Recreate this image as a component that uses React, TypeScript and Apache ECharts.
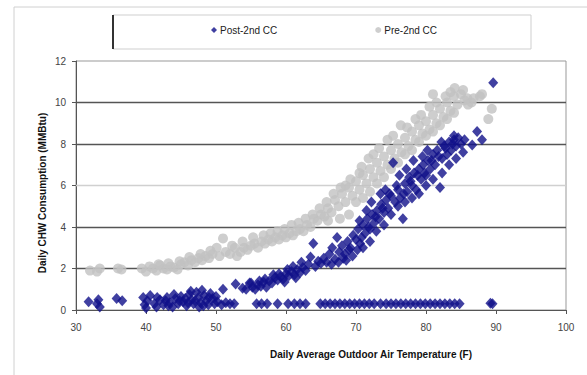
import React, { useEffect, useRef } from "react";
import * as echarts from "echarts";

const xTicks = [30, 40, 50, 60, 70, 80, 90, 100];
const yTicks = [0, 2, 4, 6, 8, 10, 12];
const seriesNames = ["Post-2nd CC", "Pre-2nd CC"];

// [temperature F, MMBtu]
const postLow: number[][] = [
  [31.8, 0.4], [33.2, 0.5], [33.4, 0.15], [33.0, 0.3], [35.8, 0.55], [36.6, 0.45],
  [39.6, 0.6], [39.8, 0.25], [40.0, 0.1], [40.2, 0.45], [40.6, 0.7], [41.2, 0.3],
  [42.0, 0.5], [42.5, 0.25], [43.0, 0.6], [43.4, 0.35], [43.8, 0.15], [44.2, 0.55],
  [44.6, 0.3], [45.0, 0.65], [45.3, 0.4], [45.8, 0.2], [46.2, 0.75], [46.5, 0.5],
  [46.8, 0.3], [47.2, 0.85], [47.5, 0.6], [47.8, 0.35], [48.0, 0.95], [48.3, 0.7],
  [48.6, 0.45], [48.9, 0.25], [49.2, 0.8], [49.5, 0.55], [49.8, 0.3], [50.2, 0.4],
  [50.8, 0.25], [51.0, 1.0], [51.4, 0.35], [52.0, 0.3], [52.8, 1.25], [52.6, 0.3],
  [41.6, 0.6], [42.8, 0.45], [44.0, 0.75], [45.6, 0.55], [46.0, 0.35], [47.0, 0.45],
  [48.2, 0.2], [49.0, 0.6], [50.0, 0.65], [44.8, 0.45], [43.2, 0.2], [41.5, 0.15],
  [47.6, 0.15], [46.4, 0.9],
];

const postUpper: number[][] = [
  [53.8, 1.05], [54.3, 1.0], [54.8, 1.3], [55.2, 1.1], [55.6, 1.0], [56.0, 1.2],
  [56.4, 1.15], [56.8, 1.35], [57.2, 1.1], [57.6, 1.4], [58.0, 1.3], [58.4, 1.55],
  [58.8, 1.45], [59.2, 1.6], [59.6, 1.5], [60.0, 1.75], [60.4, 1.65], [60.8, 1.85],
  [61.2, 1.7], [61.6, 1.95], [62.0, 1.8], [62.4, 2.05], [62.8, 1.9], [63.2, 2.2],
  [63.5, 2.55], [63.9, 3.2], [64.2, 2.1], [64.6, 2.35], [65.0, 2.25], [65.4, 2.5],
  [65.8, 2.3], [66.2, 2.7], [66.6, 3.0], [67.0, 2.45], [67.3, 3.5], [67.6, 2.8],
  [68.0, 3.1], [68.4, 2.7], [68.8, 3.3], [69.2, 3.0], [69.6, 3.6], [70.0, 3.4],
  [70.3, 3.9], [70.6, 3.2], [71.0, 4.1], [71.3, 3.7], [71.6, 4.4], [72.0, 3.9],
  [72.3, 4.6], [72.6, 4.2], [73.0, 4.8], [73.3, 4.4], [73.6, 5.1], [74.0, 4.7],
  [74.3, 5.3], [74.6, 4.9], [75.0, 5.5], [75.3, 7.1], [75.6, 5.2], [76.0, 5.8],
  [76.3, 5.4], [76.7, 4.4], [77.0, 6.1], [77.3, 5.7], [77.6, 6.4], [78.0, 6.0],
  [78.3, 6.6], [78.6, 5.8], [79.0, 6.8], [79.3, 6.3], [79.6, 7.0], [80.0, 6.5],
  [80.3, 7.2], [80.6, 6.8], [81.0, 7.5], [81.3, 7.0], [81.6, 7.7], [82.0, 5.9],
  [82.3, 7.3], [82.6, 7.9], [83.0, 7.5], [83.3, 8.1], [83.6, 7.7], [84.0, 8.2],
  [84.3, 7.9], [84.6, 8.3], [85.0, 8.0], [85.5, 8.2], [86.6, 7.95], [87.3, 8.6],
  [88.0, 8.2], [89.6, 10.95],
  [68.2, 2.5], [69.0, 2.9], [70.8, 3.5], [71.8, 4.0], [72.8, 4.5], [73.8, 4.9],
  [74.8, 5.6], [75.8, 6.0], [76.8, 5.6], [77.8, 6.2], [78.8, 6.5], [79.8, 6.6],
  [80.8, 7.2], [81.8, 7.4], [82.8, 7.8], [83.8, 8.0], [77.2, 6.8], [79.5, 7.4],
  [73.5, 5.6], [71.5, 4.8],
  [55.0, 1.3], [56.2, 1.4], [57.0, 1.5], [58.2, 1.7], [59.0, 1.75], [60.2, 1.95],
  [61.0, 2.1], [62.2, 2.3], [61.4, 1.55], [59.8, 1.35],
  [66.5, 2.2], [67.5, 2.3], [68.6, 2.4], [69.5, 2.6], [70.2, 2.9], [71.0, 3.0],
  [72.0, 3.3], [72.9, 3.8], [74.0, 4.1], [75.0, 4.6], [76.0, 5.0], [77.0, 5.2],
  [78.0, 5.4], [79.0, 5.6], [80.0, 6.0], [81.0, 6.3], [82.3, 6.6], [83.3, 7.0],
  [84.3, 7.3], [85.3, 7.6], [70.5, 4.3], [72.2, 5.2], [74.2, 5.8], [76.2, 6.5],
  [78.2, 7.2], [80.2, 7.7], [82.2, 8.1], [84.0, 8.4],
];

const postBase: number[][] = [
  [55.8, 0.3], [56.5, 0.3], [57.3, 0.3], [58.8, 0.3], [60.3, 0.3], [61.2, 0.3],
  [62.0, 0.3], [62.8, 0.3], [64.9, 0.3], [65.6, 0.3], [66.3, 0.3], [67.0, 0.3],
  [67.7, 0.3], [68.4, 0.3], [69.1, 0.3], [69.8, 0.3], [70.5, 0.3], [71.2, 0.3],
  [71.9, 0.3], [72.6, 0.3], [73.5, 0.3], [74.3, 0.3], [75.0, 0.3], [75.7, 0.3],
  [76.4, 0.3], [77.1, 0.3], [77.8, 0.3], [78.5, 0.3], [79.2, 0.3], [79.9, 0.3],
  [80.6, 0.3], [81.3, 0.3], [82.0, 0.3], [82.7, 0.3], [83.4, 0.3], [84.1, 0.3],
  [84.8, 0.3], [89.2, 0.32], [89.5, 0.3],
];

const preData: number[][] = [
  [32.0, 1.9], [33.4, 2.0], [33.0, 1.85], [36.0, 2.0], [36.5, 1.95], [39.4, 2.0],
  [40.0, 1.85], [40.5, 2.1], [41.0, 2.0], [41.5, 1.9], [42.0, 2.15], [42.5, 2.0],
  [43.0, 1.95], [43.5, 2.1], [44.0, 2.05], [44.5, 1.95], [45.0, 2.2], [45.5, 2.3],
  [46.0, 2.15], [46.5, 2.4], [47.0, 2.3], [47.5, 2.5], [48.0, 2.4], [48.5, 2.6],
  [49.0, 2.5], [49.5, 2.7], [50.1, 3.0], [50.5, 2.6], [51.0, 3.45], [51.4, 2.8],
  [52.0, 2.7], [52.7, 3.0], [53.0, 2.6], [53.5, 2.8], [54.0, 3.0], [54.5, 2.9],
  [55.0, 3.1], [55.5, 3.2], [56.0, 3.0], [56.5, 3.3], [57.0, 3.2], [57.5, 3.4],
  [58.0, 3.3], [58.5, 3.5], [59.0, 3.4], [59.5, 3.6], [60.0, 3.5], [60.5, 3.7],
  [61.0, 3.6], [61.5, 3.8], [62.0, 3.9], [62.5, 3.8], [63.0, 4.1], [63.5, 4.0],
  [64.0, 4.4], [64.5, 4.3], [65.0, 4.6], [65.5, 4.5], [66.0, 4.9], [66.5, 4.7],
  [67.0, 5.3], [67.5, 5.0], [68.0, 5.6], [68.5, 5.2], [69.0, 5.9], [69.5, 5.5],
  [70.0, 6.2], [70.5, 5.8], [71.0, 6.5], [71.5, 6.1], [72.0, 6.8], [72.5, 6.4],
  [73.0, 7.1], [73.5, 6.7], [74.0, 7.4], [74.5, 7.0], [75.0, 7.7], [75.5, 7.3],
  [76.0, 8.0], [76.4, 8.9], [76.5, 7.6], [77.0, 8.3], [77.5, 7.9], [78.0, 8.6],
  [78.5, 8.2], [79.0, 8.9], [79.5, 8.5], [80.0, 9.1], [80.5, 8.7], [81.0, 9.4],
  [81.0, 10.4], [81.5, 9.0], [82.0, 9.7], [82.5, 9.3], [83.0, 10.0], [83.5, 9.6],
  [84.0, 10.3], [84.1, 10.7], [84.5, 9.9], [85.0, 10.4], [85.5, 10.1], [85.9, 10.2],
  [86.5, 10.0], [87.7, 10.3], [88.0, 10.4], [88.9, 9.2], [89.4, 9.7],
  [66.0, 4.3], [67.7, 4.4], [69.0, 4.6], [70.0, 5.2], [71.0, 5.4], [72.0, 5.7],
  [73.0, 6.1], [74.0, 6.4], [75.0, 6.8], [76.0, 7.1], [77.0, 7.5], [78.0, 7.7],
  [79.0, 8.1], [80.0, 8.4], [81.0, 8.6], [82.0, 8.9], [83.0, 9.2], [84.0, 9.5],
  [72.5, 7.5], [74.5, 8.2], [70.5, 6.6], [68.5, 6.0], [78.5, 9.2], [80.5, 9.8],
  [41.8, 2.2], [43.2, 2.25], [44.8, 2.35], [46.2, 2.55], [47.8, 2.7], [49.2, 2.85],
  [52.3, 3.1], [53.8, 3.3], [55.3, 3.5], [56.8, 3.6], [57.8, 3.7], [58.8, 3.8],
  [59.8, 3.9], [60.8, 4.1], [61.8, 4.2], [62.8, 4.4], [63.8, 4.6], [64.8, 4.9],
  [65.8, 5.2], [66.8, 5.6], [67.8, 5.9], [69.2, 6.3], [70.8, 6.9], [71.8, 7.3],
  [73.3, 7.8], [75.3, 8.4], [77.3, 8.8], [79.3, 9.4], [81.5, 10.0], [82.8, 10.3],
  [83.5, 10.5], [85.3, 10.6], [86.0, 9.9], [86.8, 10.2],
];

const gridValues = [2, 4, 6, 8, 10];
const gridColors = ["#555", "#555", "#d0d0d0", "#555", "#555"];

const FONT = "'Liberation Sans', Arial, sans-serif";

export default function App() {
  const ref = useRef<HTMLDivElement>(null);
  useEffect(() => {
    document.body.style.margin = "0";
    if (!ref.current) return;
    const chart = echarts.init(ref.current, undefined, { renderer: "svg" });
    const postData = [...postLow, ...postUpper, ...postBase];
    chart.setOption({
      animation: false,
      backgroundColor: "#ffffff",
      textStyle: { fontFamily: FONT },
      grid: {
        left: 76, right: 21, top: 61, bottom: 65,
        show: true, borderColor: "#999", borderWidth: 1, backgroundColor: "transparent",
      },
      legend: {
        data: [
          { name: seriesNames[0], icon: "diamond" },
          { name: seriesNames[1], icon: "circle" },
        ],
        left: 206,
        top: 20,
        itemWidth: 6,
        itemHeight: 6,
        itemGap: 98,
        textStyle: { fontSize: 10, color: "#222", fontFamily: FONT, padding: [0, 0, 0, -2] },
      },
      xAxis: {
        type: "value",
        min: 30, max: 100, interval: 10,
        axisLine: { show: true, lineStyle: { color: "#555", width: 1 } },
        axisTick: { show: true, length: 4, lineStyle: { color: "#555" } },
        axisLabel: { fontSize: 10, color: "#444", margin: 12, fontFamily: FONT,
          formatter: (v: number) => (xTicks.includes(v) ? String(v) : "") },
        splitLine: { show: false },
      },
      yAxis: {
        type: "value",
        min: 0, max: 12, interval: 2,
        axisLine: { show: true, lineStyle: { color: "#555", width: 1 } },
        axisTick: { show: true, length: 4, lineStyle: { color: "#555" } },
        axisLabel: { fontSize: 10, color: "#444", margin: 10, fontFamily: FONT,
          formatter: (v: number) => (yTicks.includes(v) ? String(v) : "") },
        splitLine: { show: false },
      },
      graphic: [
        { type: "line", shape: { x1: 14, y1: 7, x2: 587, y2: 7 }, style: { stroke: "#d0d0d0", lineWidth: 1 } },
        { type: "line", shape: { x1: 14, y1: 7, x2: 14, y2: 375 }, style: { stroke: "#d0d0d0", lineWidth: 1 } },
        { type: "rect", shape: { x: 113, y: 15, width: 418, height: 34 }, style: { fill: "none", stroke: "#cfcfcf", lineWidth: 1 } },
        { type: "line", shape: { x1: 113, y1: 15, x2: 113, y2: 49 }, style: { stroke: "#333", lineWidth: 2 } },
        {
          type: "text", x: 371, y: 354,
          style: { text: "Daily Average Outdoor Air Temperature (F)", fontSize: 10, fontWeight: "bold",
            fill: "#111", align: "center", verticalAlign: "middle", fontFamily: FONT },
        },
        {
          type: "text", x: 42, y: 193, rotation: Math.PI / 2,
          style: { text: "Daily CHW Consumption (MMBtu)", fontSize: 10, fontWeight: "bold",
            fill: "#111", align: "center", verticalAlign: "middle", fontFamily: FONT },
        },
      ],
      series: [
        {
          type: "scatter",
          name: "grid",
          data: [],
          z: 1,
          silent: true,
          markLine: {
            silent: true,
            symbol: "none",
            z: 1,
            label: { show: false },
            data: gridValues.map((v, i) => ({ yAxis: v, lineStyle: { color: gridColors[i], width: 1.4, type: "solid" } })),
          },
        },
        {
          type: "scatter",
          name: seriesNames[1],
          data: preData,
          symbol: "circle",
          symbolSize: 10,
          itemStyle: { color: "#c2c2c2" },
          z: 3,
        },
        {
          type: "scatter",
          name: seriesNames[0],
          data: postData,
          symbol: "diamond",
          symbolSize: [10, 11],
          itemStyle: { color: "#10108a" },
          z: 4,
        },
      ],
    });
    return () => chart.dispose();
  }, []);
  return <div ref={ref} style={{ width: 587, height: 375 }} />;
}
